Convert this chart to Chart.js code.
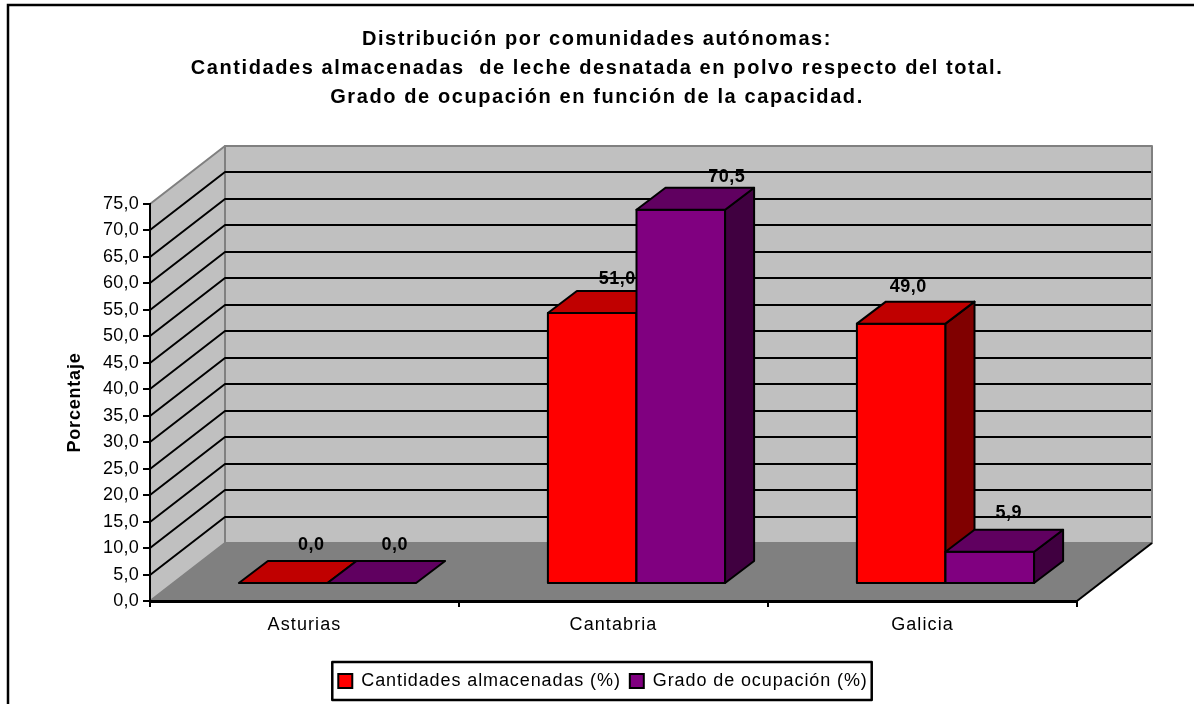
<!DOCTYPE html>
<html>
<head>
<meta charset="utf-8">
<title>Distribución por comunidades autónomas</title>
<style>
    html, body { margin: 0; padding: 0; background: #fff; overflow: hidden; }
    #wrap { width: 1194px; height: 704px; }
</style>
</head>
<body>
<div id="wrap"><canvas id="myChart" width="1194" height="704"></canvas></div>
<script src="https://cdn.jsdelivr.net/npm/chart.js@4/dist/chart.umd.js"></script>
<script>
// Data
const categories = ['Asturias', 'Cantabria', 'Galicia'];
const cantidades = [0, 51, 49];
const ocupacion = [0, 70.5, 5.9];
const titleLines = [
    'Distribución por comunidades autónomas:',
    'Cantidades almacenadas  de leche desnatada en polvo respecto del total.',
    'Grado de ocupación en función de la capacidad.'
];

const FONT = '"Liberation Sans", Arial, sans-serif';
const comma = v => v.toFixed(1).replace('.', ',');

// Fake 3D: how far the back wall and the bars sit from the axis plane
const WALL = { dx: 75, dy: -58 };
const BAR_FRONT = { dx: 23, dy: -18 };
const BAR_DEPTH = { dx: 29, dy: -22 };

// Excel put each value label by hand-ish, so keep the shift per bar [series][category]
const labelShift = [
    [[28, -38], [25, -34], [7, -37]],
    [[23, -38], [46, -33], [19, -39]]
];

const faceColors = [
    { top: '#C00000', side: '#800000' },
    { top: '#600060', side: '#400040' }
];

function poly(ctx, pts, fill, stroke, lineWidth) {
    ctx.beginPath();
    pts.forEach((p, i) => (i ? ctx.lineTo(p[0], p[1]) : ctx.moveTo(p[0], p[1])));
    ctx.closePath();
    if (fill) {
        ctx.fillStyle = fill;
        ctx.fill();
    }
    if (stroke) {
        ctx.strokeStyle = stroke;
        ctx.lineWidth = lineWidth;
        ctx.lineJoin = 'round';
        ctx.stroke();
    }
}

// The reference text is wider than the font, the library has no option for that
function spaced(obj, name, spacing) {
    const orig = obj[name];
    obj[name] = function (...args) {
        const c = this.ctx;
        c.save();
        c.letterSpacing = spacing;
        const res = orig.apply(this, args);
        c.restore();
        return res;
    };
}

let patched = false;

const box3d = {
    id: 'box3d',
    beforeLayout(chart) {
        if (patched) return;
        patched = true;
        spaced(chart.legend, 'fit', '0.9px');
        spaced(chart.legend, 'draw', '0.9px');
        spaced(chart.titleBlock, 'draw', '1.6px');
        spaced(chart.scales.x, 'drawLabels', '1.1px');
        spaced(chart.scales.y, 'drawLabels', '0.25px');
        spaced(chart.scales.y, 'drawTitle', '0.8px');
    },
    // chart area keeps space on the right for the wall, but title and legend use the whole width
    afterLayout(chart) {
        chart.titleBlock.left = 0;
        chart.titleBlock.right = chart.width;
        chart.legend.left = 12;
        chart.legend.right = chart.width;
        chart.legend.adjustHitBoxes();
    },
    beforeDraw(chart) {
        const { ctx, chartArea: a, scales } = chart;
        const x0 = a.left, x1 = a.right, yTop = a.top, yBot = a.bottom;
        const bx0 = x0 + WALL.dx, bx1 = x1 + WALL.dx, d = WALL.dy;

        ctx.save();
        // outer frame, runs off the right and bottom of the window
        ctx.strokeStyle = '#000';
        ctx.lineWidth = 2.5;
        ctx.strokeRect(8, 5, chart.width + 20, chart.height + 20);

        // walls and floor
        poly(ctx, [[bx0, yTop + d], [bx1, yTop + d], [bx1, yBot + d], [bx0, yBot + d]], '#C0C0C0', '#808080', 2);
        poly(ctx, [[x0, yBot], [bx0, yBot + d], [bx0, yTop + d], [x0, yTop]], '#C0C0C0', '#808080', 2);
        poly(ctx, [[x0, yBot], [bx0, yBot + d], [bx1, yBot + d], [x1, yBot]], '#808080');

        // right edge of the floor
        ctx.strokeStyle = '#000';
        ctx.lineWidth = 2;
        ctx.beginPath();
        ctx.moveTo(x1, yBot);
        ctx.lineTo(bx1, yBot + d);
        ctx.stroke();

        // gridlines go along the side wall and then the back wall
        scales.y.ticks.forEach(t => {
            if (t.value === 0 || t.value === scales.y.max) return;
            const y = Math.round(scales.y.getPixelForValue(t.value));
            ctx.beginPath();
            ctx.moveTo(x0, y);
            ctx.lineTo(bx0, y + d);
            ctx.lineTo(bx1 - 1, y + d);
            ctx.stroke();
        });

        // legend frame around the library's own legend items
        const hits = chart.legend.legendHitBoxes;
        const left = hits[0].left - 6;
        const last = hits[hits.length - 1];
        const right = last.left + last.width + 4;
        const top = chart.legend.top - 1;
        const h = chart.legend.height + 1;
        ctx.fillStyle = '#fff';
        ctx.fillRect(left, top, right - left, h);
        ctx.lineWidth = 2.5;
        ctx.strokeRect(left, top, right - left, h);
        ctx.restore();
    },
    // the default loop paints last dataset first, here red has to go under purple
    beforeDatasetDraw() {
        return false;
    },
    afterDatasetsDraw(chart) {
        const { ctx } = chart;
        const floor = chart.scales.y.getPixelForValue(0);
        chart.data.datasets.forEach((ds, s) => {
            const meta = chart.getDatasetMeta(s);
            ctx.save();
            ctx.translate(BAR_FRONT.dx, BAR_FRONT.dy);
            meta.controller.draw();
            meta.data.forEach(bar => {
                const l = bar.x - bar.width / 2, r = bar.x + bar.width / 2;
                const ddx = BAR_DEPTH.dx, ddy = BAR_DEPTH.dy;
                // the library lifts the bar base by half a grid line, outline goes on the true zero
                if (floor - bar.y > 0.5) {
                    poly(ctx, [[l, bar.y], [r, bar.y], [r, floor], [l, floor]], null, '#000', 2);
                    poly(ctx, [[r, bar.y], [r + ddx, bar.y + ddy], [r + ddx, floor + ddy], [r, floor]],
                        faceColors[s].side, '#000', 2);
                }
                poly(ctx, [[l, bar.y], [l + ddx, bar.y + ddy], [r + ddx, bar.y + ddy], [r, bar.y]],
                    faceColors[s].top, '#000', 2);
            });
            ctx.restore();

            ctx.save();
            ctx.fillStyle = '#000';
            ctx.font = 'bold 18px ' + FONT;
            ctx.letterSpacing = '0.5px';
            ctx.textAlign = 'center';
            ctx.textBaseline = 'middle';
            meta.data.forEach((bar, i) => {
                const shift = labelShift[s][i];
                ctx.fillText(comma(ds.data[i]), bar.x + BAR_FRONT.dx + shift[0], bar.y + BAR_FRONT.dy + shift[1]);
            });
            ctx.restore();
        });
    }
};

new Chart(document.getElementById('myChart'), {
    type: 'bar',
    data: {
        labels: categories,
        datasets: [{
            label: 'Cantidades almacenadas (%)',
            data: cantidades,
            backgroundColor: '#FF0000',
            borderWidth: 0
        }, {
            label: 'Grado de ocupación (%)',
            data: ocupacion,
            backgroundColor: '#800080',
            borderWidth: 0
        }]
    },
    plugins: [box3d],
    options: {
        responsive: false,
        animation: false,
        clip: false,
        categoryPercentage: 0.5735,
        barPercentage: 1,
        layout: { padding: { left: 0, right: 117, top: 0, bottom: 4 } },
        plugins: {
            tooltip: { enabled: false },
            title: {
                display: true,
                text: titleLines,
                color: '#000',
                font: { family: FONT, size: 20, weight: 'bold', lineHeight: 29 / 20 },
                padding: { top: 25, bottom: 92 }
            },
            legend: {
                position: 'bottom',
                onClick: null,
                labels: {
                    color: '#000',
                    font: { family: FONT, size: 18, lineHeight: 1 },
                    boxWidth: 14,
                    boxHeight: 14,
                    padding: 9,
                    // bars have no border of their own, the legend squares do
                    generateLabels: chart => Chart.defaults.plugins.legend.labels.generateLabels(chart)
                        .map(item => ({ ...item, strokeStyle: '#000', lineWidth: 2 }))
                }
            }
        },
        scales: {
            x: {
                afterFit(axis) { axis.height = 62; },
                grid: { drawOnChartArea: false, color: '#000', lineWidth: 2, tickLength: 6 },
                border: { color: '#000', width: 3 },
                ticks: { color: '#000', font: { family: FONT, size: 18 }, padding: 7, maxRotation: 0 }
            },
            y: {
                min: 0,
                max: 75,
                afterFit(axis) { axis.width = 150; },
                title: {
                    display: true,
                    text: 'Porcentaje',
                    color: '#000',
                    font: { family: FONT, size: 18, weight: 'bold' },
                    padding: { top: 64, bottom: 0 }
                },
                grid: { drawOnChartArea: false, color: '#000', lineWidth: 2, tickLength: 7 },
                border: { color: '#000', width: 2 },
                ticks: {
                    stepSize: 5,
                    color: '#000',
                    font: { family: FONT, size: 18 },
                    padding: 4,
                    callback: v => comma(v)
                }
            }
        }
    }
});
</script>
</body>
</html>
